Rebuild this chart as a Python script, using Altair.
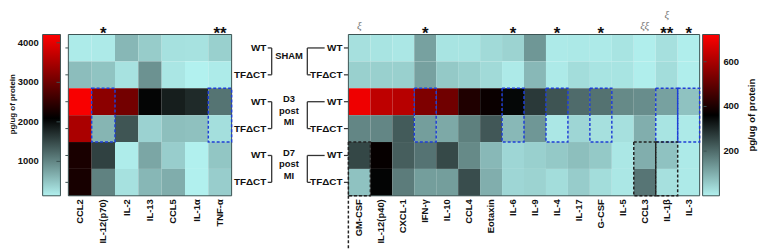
import altair as alt
import pandas as pd

# ---------------- data ----------------
row_labels = ["WT", "TFΔCT", "WT", "TFΔCT", "WT", "TFΔCT"]
group_labels = ["SHAM", "D3\npost\nMI", "D7\npost\nMI"]

left_cytokines = ["CCL2", "IL-12(p70)", "IL-2", "IL-13", "CCL5", "IL-1α", "TNF-α"]
left_values = [
    [180, 190, 600, 430, 260, 250, 400],
    [550, 500, 250, 900, 220, 130, 180],
    [4150, 3250, 3050, 2050, 1850, 1750, 1150],
    [3500, 620, 1400, 380, 540, 520, 280],
    [2300, 1560, 170, 740, 420, 140, 480],
    [2280, 1030, 260, 600, 680, 140, 420],
]

right_cytokines = ["GM-CSF", "IL-12(p40)", "CXCL-1", "IFN-γ", "IL-10", "CCL4", "Eotaxin",
                   "IL-6", "IL-9", "IL-4", "IL-17", "G-CSF", "IL-5", "CCL3", "IL-1β", "IL-3"]
right_values = [
    [25, 20, 15, 120, 20, 20, 35, 45, 135, 10, 12, 10, 20, 5, 25, 5],
    [50, 50, 50, 120, 60, 50, 35, 10, 85, 10, 30, 20, 20, 5, 30, 5],
    [700, 630, 620, 540, 520, 405, 375, 350, 275, 235, 200, 190, 155, 150, 120, 70],
    [160, 160, 225, 125, 108, 170, 230, 85, 135, 15, 40, 25, 25, 100, 20, 10],
    [255, 370, 220, 188, 252, 155, 85, 40, 50, 60, 75, 60, 15, 100, 70, 10],
    [70, 355, 175, 125, 125, 245, 100, 40, 45, 30, 55, 30, 15, 185, 25, 10],
]

left_star_cyt = ["IL-12(p70)", "TNF-α"]
left_star_txt = ["*", "**"]
right_star_cyt = ["IFN-γ", "IL-6", "IL-4", "G-CSF", "IL-1β", "IL-3"]
right_star_txt = ["*", "*", "*", "*", "**", "*"]
right_xi_low_cyt = ["GM-CSF", "CCL3"]
right_xi_low_txt = ["ξ", "ξξ"]
right_xi_high_cyt = ["IL-1β"]
right_xi_high_txt = ["ξ"]

left_blue_boxes = ["IL-12(p70)", "TNF-α"]          # D3 rows
right_blue_boxes = ["IFN-γ", "IL-6", "IL-4", "G-CSF", "IL-1β", "IL-3"]  # D3 rows
right_black_boxes = ["GM-CSF", "CCL3", "IL-1β"]      # D7 rows
D3_FIRST_ROW = 2
D7_FIRST_ROW = 4

left_color_domain = [130, 2090, 4210]
right_color_domain = [0, 361, 722]
left_ticks = [1000, 2000, 3000, 4000]
right_ticks = [200, 400, 600]
unit_title = "pg/ug of protein"

# ---------------- style / layout ----------------
FONT = "Liberation Sans"
CMAP = ["#b2f1ef", "#000000", "#ff0000"]
FRAME = "#3b5252"
BLUE = "#1f3fd6"
DARK = "#222222"
W, H = 760, 243
ROW_TOP, ROW_BOT = 25.5, 188.5
LEFT_X = [61, 226]
RIGHT_X = [344, 699]


def row_scale():
    return alt.Scale(domain=[-0.5, 5.5], range=[ROW_TOP, ROW_BOT], zero=False, nice=False)


def heatmap(cyts, values, domain, xr, stars_c, stars_t, xi_sets, box_sets, ext_line=None):
    X = alt.X("cyt:N", scale=alt.Scale(domain=cyts, range=xr, padding=0), axis=None)
    ys = row_scale()
    df = pd.DataFrame([{"cyt": c, "row": r, "val": values[r][i]}
                       for r in range(6) for i, c in enumerate(cyts)])
    cells = alt.Chart(df).transform_calculate(
        y0="datum.row - 0.5", y1="datum.row + 0.5"
    ).mark_rect(strokeWidth=0).encode(
        x=X, y=alt.Y("y0:Q", scale=ys, axis=None), y2="y1:Q",
        color=alt.Color("val:Q", scale=alt.Scale(domain=domain, range=CMAP, interpolate="rgb"), legend=None),
    )
    layers = [cells]
    frame = alt.Chart(pd.DataFrame({"a": [0]})).mark_rect(
        fillOpacity=0, stroke=FRAME, strokeWidth=1
    ).encode(x=alt.value(xr[0]), x2=alt.value(xr[1]), y=alt.value(ROW_TOP), y2=alt.value(ROW_BOT))
    layers.append(frame)
    for cl, r0, col in box_sets:
        bdf = pd.DataFrame({"cyt": cl, "r0": [r0] * len(cl)})
        layers.append(
            alt.Chart(bdf).transform_calculate(b0="datum.r0 - 0.5", b1="datum.r0 + 1.5")
            .mark_rect(fillOpacity=0, stroke=col, strokeWidth=1.5, strokeDash=[3, 2])
            .encode(x=X, y=alt.Y("b0:Q", scale=ys, axis=None), y2="b1:Q")
        )
    if ext_line is not None:
        layers.append(
            alt.Chart(pd.DataFrame({"a": [0]})).mark_rule(color=DARK, strokeWidth=1.5, strokeDash=[3, 2])
            .encode(x=alt.value(ext_line), y=alt.value(ROW_BOT), y2=alt.value(H - 1))
        )
    # column labels
    layers.append(
        alt.Chart(pd.DataFrame({"cyt": cyts})).mark_text(
            angle=270, align="right", baseline="middle", font=FONT, fontSize=9.5, fontWeight="bold", color="#111"
        ).encode(x=X, y=alt.value(192), text="cyt:N")
    )
    # stars
    layers.append(
        alt.Chart(pd.DataFrame({"cyt": stars_c, "t": stars_t})).mark_text(
            baseline="alphabetic", font=FONT, fontSize=17, fontWeight="bold", color="#111"
        ).encode(x=X, y=alt.value(30), text="t:N")
    )
    for cl, tl, yv in xi_sets:
        layers.append(
            alt.Chart(pd.DataFrame({"cyt": cl, "t": tl})).mark_text(
                baseline="middle", font="Liberation Serif", fontSize=11, fontStyle="italic", color="#777"
            ).encode(x=X, y=alt.value(yv), text="t:N")
        )
    return alt.layer(*layers)


def colorbar(domain, x0, x1, ticks, tick_x, label_x, label_align, title_x, title_y, title_size):
    ys = alt.Scale(domain=[domain[0], domain[2]], range=[ROW_BOT, ROW_TOP], zero=False, nice=False)
    mid = (domain[2] - domain[1]) / (domain[2] - domain[0])
    grad = alt.LinearGradient(
        gradient="linear",
        stops=[alt.GradientStop(offset=0, color=CMAP[2]),
               alt.GradientStop(offset=mid, color=CMAP[1]),
               alt.GradientStop(offset=1, color=CMAP[0])],
        x1=0, x2=0, y1=0, y2=1,
    )
    bar = alt.Chart(pd.DataFrame({"lo": [domain[0]], "hi": [domain[2]]})).mark_rect(
        fill=grad, stroke=FRAME, strokeWidth=1
    ).encode(x=alt.value(x0), x2=alt.value(x1), y=alt.Y("hi:Q", scale=ys, axis=None), y2="lo:Q")
    tdf = pd.DataFrame({"t": ticks})
    tk = alt.Chart(tdf).mark_rule(color=FRAME, strokeWidth=1).encode(
        x=alt.value(tick_x[0]), x2=alt.value(tick_x[1]), y=alt.Y("t:Q", scale=ys, axis=None))
    lab = alt.Chart(tdf).mark_text(
        align=label_align, baseline="middle", font=FONT, fontSize=9.5, fontWeight="bold", color="#111"
    ).encode(x=alt.value(label_x), y=alt.Y("t:Q", scale=ys, axis=None), text=alt.Text("t:Q", format="d"))
    ttl = alt.Chart(pd.DataFrame({"t": [unit_title]})).mark_text(
        angle=270, align="center", baseline="middle", font=FONT, fontSize=title_size, fontWeight="bold", color="#111"
    ).encode(x=alt.value(title_x), y=alt.value(title_y), text="t:N")
    return alt.layer(bar, tk, lab, ttl)


def middle():
    ys = row_scale()
    rdf = pd.DataFrame({"row": list(range(6)), "label": row_labels})
    gdf = pd.DataFrame({"g": [0, 1, 2], "label": group_labels})
    Yr = alt.Y("row:Q", scale=ys, axis=None)
    txt = dict(font=FONT, fontSize=10, fontWeight="bold", color="#111", baseline="middle")
    lcol = "#333333"
    layers = [
        # left heatmap ticks
        alt.Chart(rdf).mark_rule(color=FRAME).encode(x=alt.value(58), x2=alt.value(61), y=Yr),
        # labels to the right of left heatmap
        alt.Chart(rdf).mark_text(align="right", **txt).encode(x=alt.value(261), y=Yr, text="label:N"),
        alt.Chart(rdf).mark_rule(color=lcol, strokeWidth=1.3).encode(x=alt.value(262.5), x2=alt.value(266.5), y=Yr),
        # labels of right heatmap with ticks
        alt.Chart(rdf).mark_text(align="right", **txt).encode(x=alt.value(338), y=Yr, text="label:N"),
        alt.Chart(rdf).mark_rule(color=lcol, strokeWidth=1.2).encode(x=alt.value(339.5), x2=alt.value(344), y=Yr),
    ]
    gb = alt.Chart(gdf).transform_calculate(
        top="2 * datum.g", bot="2 * datum.g + 1", mid="2 * datum.g + 0.5",
        nlines="length(split(datum.label, '\\n'))"
    )
    Ymid = alt.Y("mid:Q", scale=ys, axis=None)
    gtxt = dict(align="center", lineBreak="\n", lineHeight=11.5, font=FONT, fontSize=9.5,
                fontWeight="bold", color="#111", baseline="middle")
    layers += [
        gb.mark_rule(color=lcol, strokeWidth=1.3).encode(
            x=alt.value(266.5), y=alt.Y("top:Q", scale=ys, axis=None), y2="bot:Q"),
        gb.mark_rule(color=lcol, strokeWidth=1.3).encode(
            x=alt.value(302.5), y=alt.Y("top:Q", scale=ys, axis=None), y2="bot:Q"),
        gb.mark_rule(color=lcol, strokeWidth=1.3).encode(
            x=alt.value(302.5), x2=alt.value(320), y=alt.Y("top:Q", scale=ys, axis=None)),
        gb.mark_rule(color=lcol, strokeWidth=1.3).encode(
            x=alt.value(302.5), x2=alt.value(306), y=alt.Y("bot:Q", scale=ys, axis=None)),
        gb.transform_filter("datum.nlines == 1").mark_text(dy=-5, **gtxt).encode(
            x=alt.value(284), y=Ymid, text="label:N"),
        gb.transform_filter("datum.nlines > 1").mark_text(dy=-16, **gtxt).encode(
            x=alt.value(284), y=Ymid, text="label:N"),
    ]
    return alt.layer(*layers)


left_cb = colorbar(left_color_domain, 35, 53, left_ticks, (49, 53), 31, "right", 5.5, 96, 8)
right_cb = colorbar(right_color_domain, 702, 719, right_ticks, (703, 706), 723, "left", 752, 107, 9.7)

left_hm = heatmap(left_cytokines, left_values, left_color_domain, LEFT_X,
                  left_star_cyt, left_star_txt, [],
                  [(left_blue_boxes, D3_FIRST_ROW, BLUE)])
right_hm = heatmap(right_cytokines, right_values, right_color_domain, RIGHT_X,
                   right_star_cyt, right_star_txt,
                   [(right_xi_low_cyt, right_xi_low_txt, 17), (right_xi_high_cyt, right_xi_high_txt, 6)],
                   [(right_blue_boxes, D3_FIRST_ROW, BLUE), (right_black_boxes, D7_FIRST_ROW, DARK)],
                   ext_line=RIGHT_X[0])

chart = alt.layer(left_cb, left_hm, middle(), right_hm, right_cb).resolve_scale(
    x="independent", y="independent", color="independent"
).properties(
    width=W, height=H, padding=0, autosize=alt.AutoSizeParams(type="none")
).configure_view(stroke=None)

chart.save("out.html", embed_options={"renderer": "svg", "actions": False})
